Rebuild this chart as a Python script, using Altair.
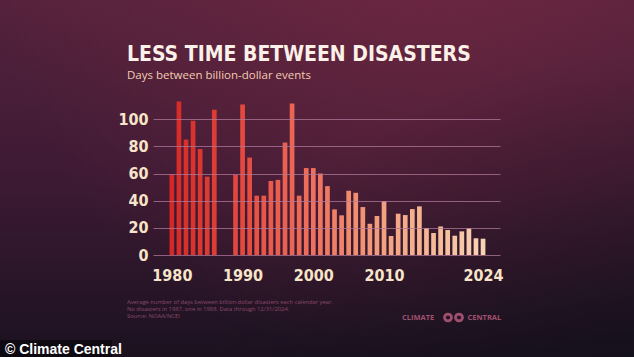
import altair as alt
import pandas as pd

years = [1980, 1981, 1982, 1983, 1984, 1985, 1986,
         1989, 1990, 1991, 1992, 1993, 1994, 1995, 1996, 1997, 1998, 1999,
         2000, 2001, 2002, 2003, 2004, 2005, 2006, 2007, 2008, 2009,
         2010, 2011, 2012, 2013, 2014, 2015, 2016, 2017, 2018, 2019,
         2020, 2021, 2022, 2023, 2024]
days = [59.5, 113, 85, 98.8, 78, 57.7, 107,
        59, 110.8, 71.7, 43.7, 43.7, 54.5, 55.3, 82.8, 111.5, 43.7, 64,
        64, 60, 50.7, 33.6, 29.2, 47.3, 45.8, 35.3, 23, 28.7,
        39.7, 14, 30.4, 29.4, 33.8, 35.8, 19.9, 16.2, 21, 18.4,
        14.2, 17.4, 19.6, 12.3, 12]
year_ticks = [1980, 1990, 2000, 2010, 2024]
day_ticks = [0, 20, 40, 60, 80, 100]
color_years = [1980, 1990, 2000, 2010, 2024]
color_range = ["#d42828", "#e4493f", "#ee705e", "#f3a080", "#f8d2b4"]

title_text = "LESS TIME BETWEEN DISASTERS"
subtitle_text = "Days between billion-dollar events"
notes = ["Average number of days between billion-dollar disasters each calendar year.",
         "No disasters in 1987, one in 1988. Data through 12/31/2024.",
         "Source: NOAA/NCEI"]

df = pd.DataFrame({"year": years, "days": days})
one = pd.DataFrame({"a": [0]})

W, H = 347, 163
PL, PT = 153, 92
NARROW = "DejaVu Sans Condensed, sans-serif"

full = dict(x=alt.value(-PL), x2=alt.value(634 - PL), y=alt.value(-PT), y2=alt.value(357 - PT))

bg = alt.Chart(one).mark_rect(
    fill=alt.LinearGradient(gradient="linear", x1=0, y1=0, x2=0, y2=1,
        stops=[alt.GradientStop(color="#55223d", offset=0),
               alt.GradientStop(color="#3d1a34", offset=0.5),
               alt.GradientStop(color="#1b1220", offset=1)])
).encode(**full)

glow = alt.Chart(one).mark_rect(
    fill=alt.RadialGradient(gradient="radial", x1=0.68, y1=0.1, r1=0, x2=0.68, y2=0.1, r2=0.7,
        stops=[alt.GradientStop(color="rgba(125,42,66,0.6)", offset=0),
               alt.GradientStop(color="rgba(125,42,66,0)", offset=1)])
).encode(**full)

shade = alt.Chart(one).mark_rect(
    fill=alt.RadialGradient(gradient="radial", x1=1, y1=1, r1=0, x2=1, y2=1, r2=0.7,
        stops=[alt.GradientStop(color="rgba(14,14,24,0.7)", offset=0),
               alt.GradientStop(color="rgba(14,14,24,0)", offset=1)])
).encode(**full)

bars = alt.Chart(df).mark_bar(size=4.7).encode(
    x=alt.X("year:Q", scale=alt.Scale(domain=[1978.04, 2025.69], nice=False, zero=False),
            axis=alt.Axis(values=year_ticks, format="d", title=None, grid=False, ticks=False,
                          domain=False, labelFont=NARROW, labelFontWeight="bold",
                          labelFontSize=16, labelColor="#f8e4c8", labelPadding=12,
                          labelFlush=False, zindex=2)),
    y=alt.Y("days:Q", scale=alt.Scale(domain=[0, 120], nice=False),
            axis=alt.Axis(values=day_ticks, title=None, grid=True, gridColor="#b07898",
                          gridOpacity=0.75, gridWidth=1, ticks=False, domain=False,
                          labelFont=NARROW, labelFontWeight="bold", labelFontSize=16,
                          labelColor="#f8e4c8", labelPadding=5, zindex=1)),
    color=alt.Color("year:Q", scale=alt.Scale(domain=color_years, range=color_range), legend=None),
)

title = alt.Chart(one).mark_text(text=title_text, font=NARROW, fontWeight="bold", fontSize=21,
                                 color="#fbf1e8", align="left", baseline="alphabetic").encode(
    x=alt.value(-26), y=alt.value(-31))
subtitle = alt.Chart(one).mark_text(text=subtitle_text, font="Open Sans", fontSize=11.5,
                                    color="#f3cdb2", align="left", baseline="alphabetic").encode(
    x=alt.value(-26), y=alt.value(-13.5))

note_df = pd.DataFrame({"t": notes, "i": [0, 1, 2]})
note_layer = alt.Chart(note_df).mark_text(font="Open Sans", fontSize=5.8, color="#8c4a6c",
                                          align="left", baseline="alphabetic").encode(
    text="t:N",
    x=alt.value(-26),
    y=alt.Y("i:Q", scale=alt.Scale(domain=[0, 2], range=[212, 226]), axis=None),
)

logo_l = alt.Chart(one).mark_text(text="CLIMATE", font="Open Sans", fontWeight="bold", fontSize=7.5,
                                  color="#a0506f", align="left", baseline="middle").encode(
    x=alt.value(402 - PL), y=alt.value(317.5 - PT))
logo_r = alt.Chart(one).mark_text(text="CENTRAL", font="Open Sans", fontWeight="bold", fontSize=7.5,
                                  color="#a0506f", align="left", baseline="middle").encode(
    x=alt.value(467.5 - PL), y=alt.value(317.5 - PT))
ring_df = pd.DataFrame({"k": [0, 1]})
rings = alt.Chart(ring_df).mark_point(filled=True, shape="circle", size=95, color="#a0506f", opacity=1).encode(
    x=alt.X("k:Q", scale=alt.Scale(domain=[0, 1], range=[448 - PL, 459 - PL]), axis=None),
    y=alt.value(317.5 - PT))
holes = alt.Chart(ring_df).mark_point(filled=True, shape="circle", size=18, color="#2a1428", opacity=1).encode(
    x=alt.X("k:Q", scale=alt.Scale(domain=[0, 1], range=[448 - PL, 459 - PL]), axis=None),
    y=alt.value(317.5 - PT))

wm_box = alt.Chart(one).mark_rect(color="#000000", opacity=0.45).encode(
    x=alt.value(0 - PL), x2=alt.value(112 - PL), y=alt.value(340 - PT), y2=alt.value(357 - PT))
wm = alt.Chart(one).mark_text(text="© Climate Central", font="Liberation Sans", fontWeight="bold",
                              fontSize=14, color="#ffffff", align="left", baseline="alphabetic").encode(
    x=alt.value(5 - PL), y=alt.value(353.5 - PT))

chart = alt.layer(bg, glow, shade, bars, title, subtitle, note_layer, logo_l, rings, holes, logo_r,
                  wm_box, wm).resolve_scale(x="independent", y="independent").properties(
    width=W, height=H,
    autosize=alt.AutoSizeParams(type="none"),
    padding={"left": PL, "top": PT, "right": 634 - PL - W, "bottom": 357 - PT - H},
    background="#1b1220",
).configure_view(stroke=None)

chart.save("out.html", embed_options={"renderer": "svg", "actions": False})
